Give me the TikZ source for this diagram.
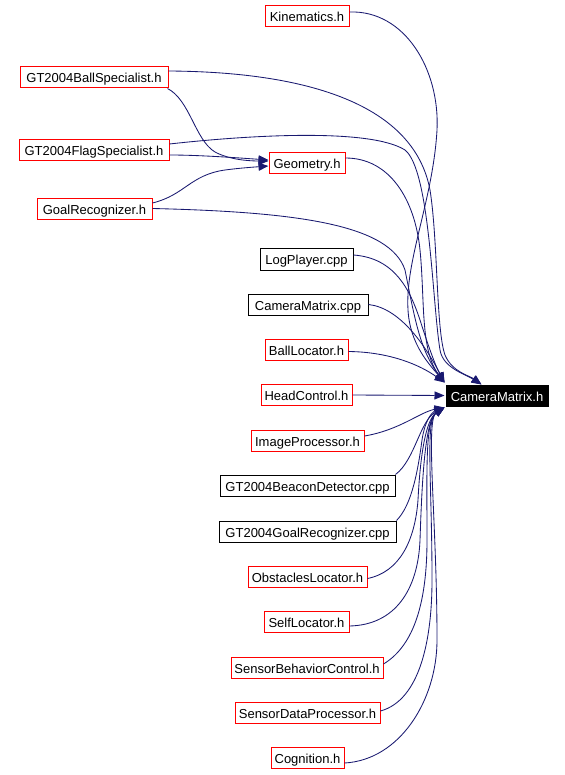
\documentclass[tikz,border=0pt]{standalone}
\usepackage{fontspec}
\setmainfont{Liberation Sans}
\usetikzlibrary{arrows.meta}
\definecolor{edgeblue}{HTML}{191970}
\definecolor{boxred}{HTML}{FF0000}
\tikzset{
  filebox/.style={draw=boxred, line width=1pt, inner sep=0pt, minimum height=21pt, fill=white,
    text height=11pt, text depth=0pt, font=\fontsize{13}{14}\selectfont},
  srcbox/.style={filebox, draw=black},
  mainbox/.style={filebox, draw=black, fill=black, text=white},
  dep/.style={draw=edgeblue, line width=0.85pt, -{Triangle[length=10pt,width=8pt]}, color=edgeblue}
}
\begin{document}
\begin{tikzpicture}[x=1pt,y=-1pt]
\useasboundingbox (0,0) rectangle (564,775);
% nodes
\node[filebox, minimum width=84pt]  (kin)    at (307,16.5)  {Kinematics.h};
\node[filebox, minimum width=148pt] (ball)   at (94,77.5)   {GT2004BallSpecialist.h};
\node[filebox, minimum width=150pt] (flag)   at (94,150)    {GT2004FlagSpecialist.h};
\node[filebox, minimum width=76pt]  (geom)   at (307,163.5) {Geometry.h};
\node[filebox, minimum width=115pt] (goalrec) at (94.5,209.5) {GoalRecognizer.h};
\node[srcbox, minimum width=93pt]   (logp)   at (306.5,259.5) {LogPlayer.cpp};
\node[srcbox, minimum width=120pt]  (cmcpp)  at (308,304.5) {CameraMatrix.cpp};
\node[filebox, minimum width=83pt]  (balloc) at (306.5,349.5) {BallLocator.h};
\node[filebox, minimum width=91pt]  (head)   at (306.5,395) {HeadControl.h};
\node[filebox, minimum width=113pt] (imgp)   at (307.5,441) {ImageProcessor.h};
\node[srcbox, minimum width=175pt]  (beacon) at (307.5,485.5) {GT2004BeaconDetector.cpp};
\node[srcbox, minimum width=177pt]  (grcpp)  at (307.5,531.5) {GT2004GoalRecognizer.cpp};
\node[filebox, minimum width=119pt] (obst)   at (307.5,576.5) {ObstaclesLocator.h};
\node[filebox, minimum width=85pt]  (self)   at (306.5,622) {SelfLocator.h};
\node[filebox, minimum width=152pt] (sbc)    at (307,667.5) {SensorBehaviorControl.h};
\node[filebox, minimum width=145pt] (sdp)    at (307.5,713) {SensorDataProcessor.h};
\node[filebox, minimum width=73pt]  (cog)    at (307.5,757.5) {Cognition.h};
\node[mainbox, minimum width=102pt] (cm)     at (497,395.5) {CameraMatrix.h};
% edges into Geometry.h
\draw[dep] ([xshift=-1pt]ball.south east) .. controls (190,100) and (195,140) .. (215,152) .. controls (230,160) and (250,161) .. ([yshift=2.5pt]geom.west);
\draw[dep] ([yshift=-5pt]flag.east) .. controls (200,155) and (240,158) .. ([yshift=3.5pt]geom.west);
\draw[dep] ([yshift=6.5pt]goalrec.east) .. controls (185,195) and (190,175) .. (225,170) .. controls (240,168) and (255,167) .. ([yshift=-2.5pt]geom.west);
% upper edges into CameraMatrix.h
\draw[dep] ([yshift=4.5pt]kin.east) .. controls (405,10) and (440,70) .. (437,130) .. controls (433,200) and (405,260) .. (408,310) .. controls (410,345) and (430,365) .. ([xshift=-1pt,yshift=2pt]cm.north west);
\draw[dep] ([yshift=6.5pt]ball.east) .. controls (320,72) and (415,110) .. (430,190) .. controls (438,240) and (436,330) .. (445,355) .. controls (452,372) and (470,376) .. ([xshift=36pt]cm.north west);
\draw[dep] ([yshift=6pt]flag.east) .. controls (250,135) and (370,128) .. (405,150) .. controls (430,170) and (432,300) .. (440,350) .. controls (443,368) and (465,374) .. ([xshift=36pt]cm.north west);
\draw[dep] ([yshift=5.5pt]geom.east) .. controls (390,158) and (415,200) .. (420,250) .. controls (425,300) and (420,350) .. ([xshift=-1pt,yshift=2pt]cm.north west);
\draw[dep] ([yshift=1pt]goalrec.east) .. controls (300,212) and (390,225) .. (405,270) .. controls (415,320) and (420,350) .. ([xshift=-1pt,yshift=2pt]cm.north west);
\draw[dep] ([yshift=4.5pt]logp.east) .. controls (395,258) and (410,290) .. (420,320) .. controls (428,345) and (435,365) .. ([xshift=-1pt,yshift=2pt]cm.north west);
\draw[dep] (cmcpp.east) .. controls (400,308) and (425,345) .. ([xshift=-1pt,yshift=2pt]cm.north west);
\draw[dep] ([yshift=-2pt]balloc.east) .. controls (390,352) and (420,365) .. ([xshift=-1pt,yshift=2pt]cm.north west);
\draw[dep] (head.east) -- ([xshift=-1pt]cm.west);
% lower edges into CameraMatrix.h
\draw[dep] ([yshift=5pt]imgp.east) .. controls (400,430) and (420,412) .. ([xshift=-1pt,yshift=-1pt]cm.south west);
\draw[dep] (beacon.north east) .. controls (415,460) and (420,420) .. ([xshift=-1pt,yshift=-1pt]cm.south west);
\draw[dep] (grcpp.north east) .. controls (412,505) and (418,470) .. (422,440) .. controls (425,420) and (432,412) .. ([xshift=-1pt,yshift=-1pt]cm.south west);
\draw[dep] ([yshift=-2pt]obst.east) .. controls (400,572) and (415,540) .. (418,500) .. controls (420,460) and (425,420) .. ([xshift=-1pt,yshift=-1pt]cm.south west);
\draw[dep] ([yshift=-4pt]self.east) .. controls (395,625) and (418,590) .. (420,540) .. controls (422,480) and (425,420) .. ([xshift=-1pt,yshift=-1pt]cm.south west);
\draw[dep] ([yshift=3.5pt]sbc.east) .. controls (415,645) and (427,600) .. (427,540) .. controls (427,470) and (425,420) .. ([xshift=-1pt,yshift=-1pt]cm.south west);
\draw[dep] ([yshift=2pt]sdp.east) .. controls (420,700) and (432,640) .. (432,580) .. controls (432,480) and (425,420) .. ([xshift=-1pt,yshift=-1pt]cm.south west);
\draw[dep] ([yshift=-5.5pt]cog.east) .. controls (400,760) and (437,700) .. (437,640) .. controls (437,520) and (425,420) .. ([xshift=-1pt,yshift=-1pt]cm.south west);
\end{tikzpicture}
\end{document}
